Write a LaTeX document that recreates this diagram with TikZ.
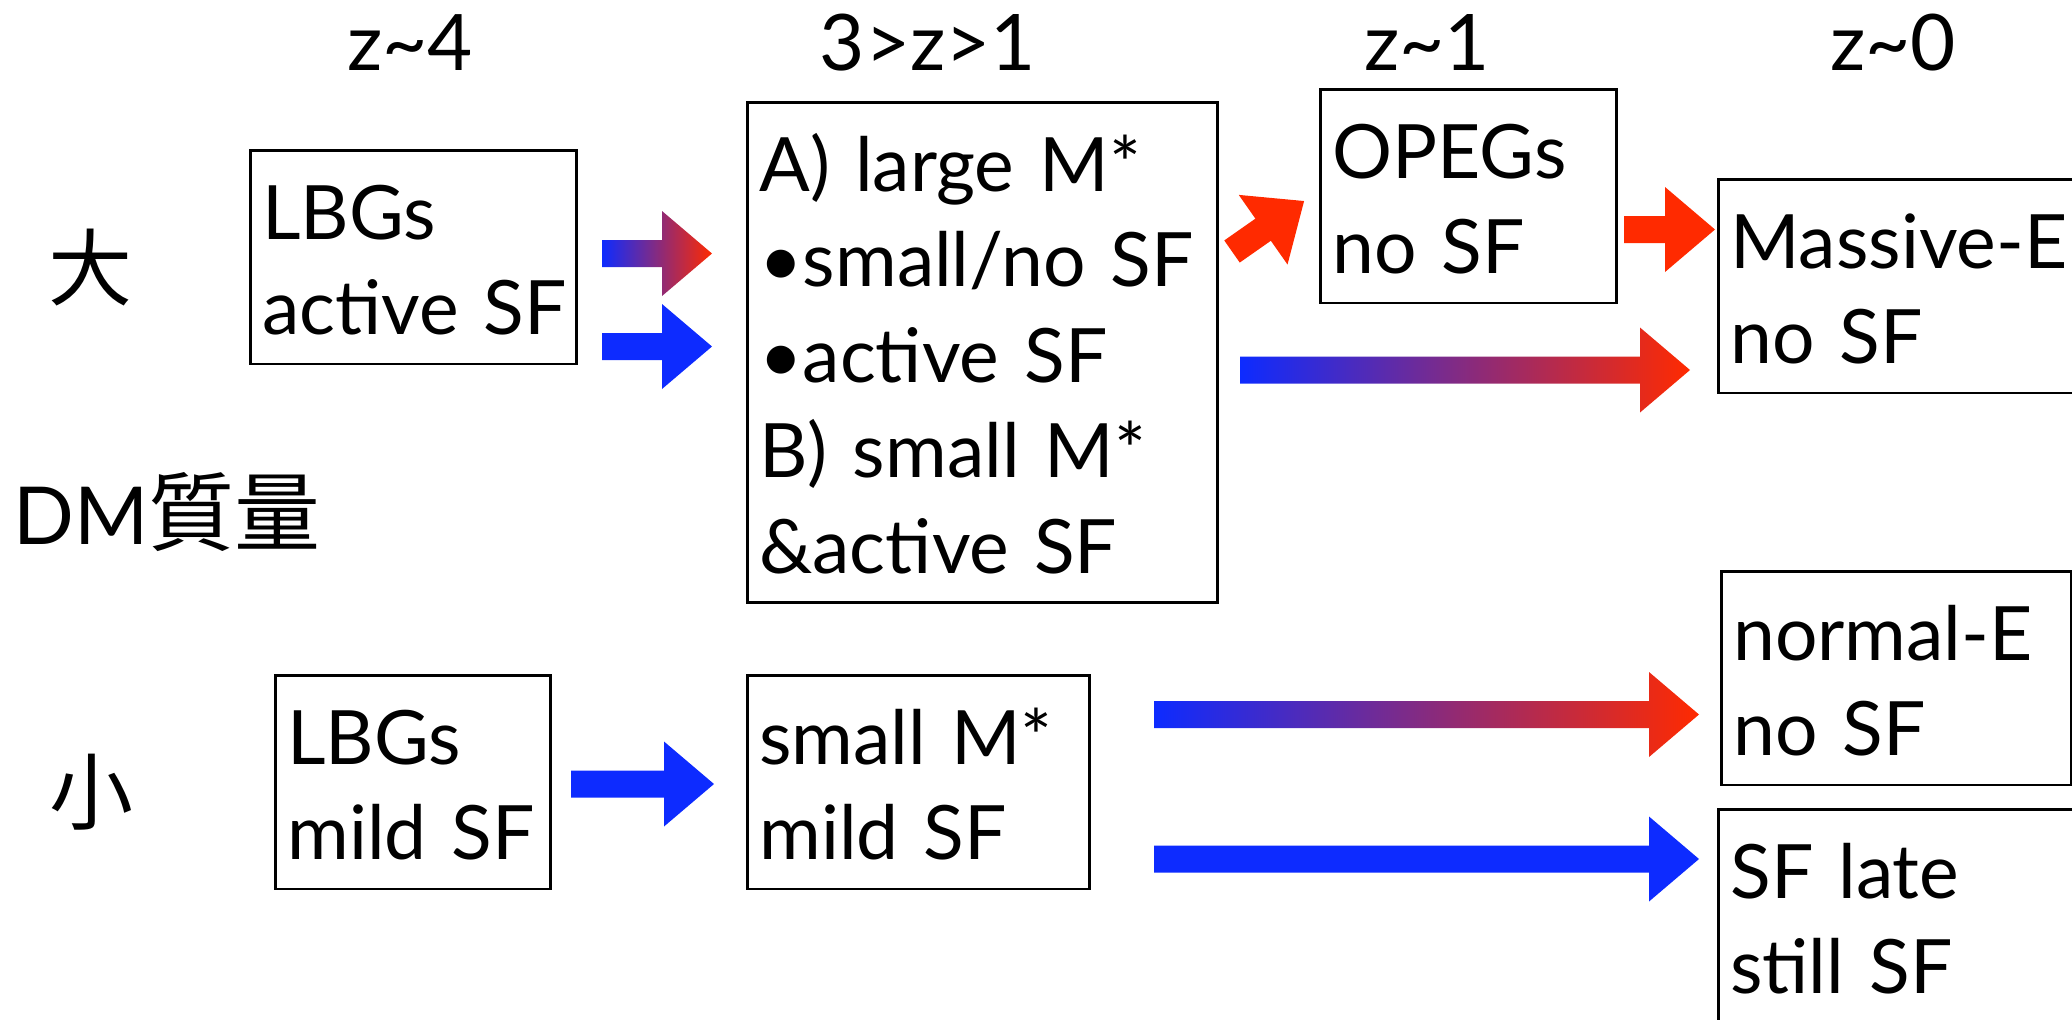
\documentclass[tikz,border=0pt]{standalone}
\usepackage{fontspec}
\setmainfont{Lato}
\newfontfamily\cjk{Noto Sans CJK JP}
\definecolor{arblue}{RGB}{13,43,255}
\definecolor{arred}{RGB}{255,42,0}

% struts fixing the first baseline and the space under the last line of a box
\newcommand\firstline{\rule{0pt}{44.5pt}}
\newcommand\lastline{\rule[-14.5pt]{0pt}{14.5pt}}
% block arrow: [style]{tail coordinate}{length}{angle}
\newcommand\blockarrow[4][]{%
  \path[#1, shift={(#2)}, rotate=#4]
    (0,-13.5) -- ({#3-50},-13.5) -- ({#3-50},-42.5) -- (#3,0)
    -- ({#3-50},42.5) -- ({#3-50},13.5) -- (0,13.5) -- cycle;}

\begin{document}
\begin{tikzpicture}[x=0.5pt,y=-0.5pt,
  every node/.style={font=\fontsize{37.5}{47.75}\selectfont, inner sep=0pt},
  box/.style={draw, line width=1.3pt, anchor=north west, align=left,
              inner xsep=6pt, inner ysep=0pt},
  head/.style={anchor=base, font=\fontsize{39}{47.75}\selectfont},
  side/.style={font=\cjk\fontsize{42}{47.75}\selectfont, anchor=base},
  grad/.style={left color=arblue, right color=arred},
  blu/.style={fill=arblue},
  rd/.style={fill=arred}]
\useasboundingbox (0,0) rectangle (2072,1019);
\clip (0,0) rectangle (2072,1019);

% redshift headings
\node[head] (hz4) at (410,70) {z\textasciitilde 4};
\node[head] (hz31) at (928,70) {3>z>1};
\node[head] (hz1) at (1427,70) {z\textasciitilde 1};
\node[head] (hz0) at (1893,70) {z\textasciitilde 0};

% halo mass axis
\node[side] (big) at (90,299) {大};
\node[anchor=base west, font=\fontsize{40}{47.75}\selectfont] (dm) at (13,544)
  {DM{\cjk\fontsize{43}{47.75}\selectfont 質量}};
\node[side] (small) at (91,823) {小};

% massive branch
\node[box, text width=151pt] (lbgA) at (249,149)
  {\firstline LBGs\\ \mbox{active SF}\lastline};
\node[box, text width=223pt] (mid) at (746,101)
  {\firstline \mbox{A) large M*}\\ \mbox{•small/no SF}\\ \mbox{•active SF}\\
   \mbox{B) small M*}\\ \mbox{\&active SF}\lastline};
\node[box, text width=136pt] (opeg) at (1319,88)
  {\firstline OPEGs\\ \mbox{no SF}\lastline};
\node[box, text width=188pt] (mE) at (1717,178)
  {\firstline Massive-E\\ \mbox{no SF}\lastline};

% low-mass branch
\node[box, text width=125.5pt] (lbgB) at (274,674)
  {\firstline LBGs\\ \mbox{mild SF}\lastline};
\node[box, text width=159pt] (smallM) at (746,674)
  {\firstline \mbox{small M*}\\ \mbox{mild SF}\lastline};
\node[box, text width=163pt] (nE) at (1720,570)
  {\firstline normal-E\\ \mbox{no SF}\lastline};
\node[box, text width=188pt] (late) at (1717,808)
  {\firstline \mbox{SF late}\\ \mbox{still SF}\lastline};

% arrows
\coordinate (a1) at (602,253.5);  \blockarrow[grad]{a1}{110}{0}
\coordinate (a2) at (602,346.5);  \blockarrow[blu]{a2}{110}{0}
\coordinate (a3) at (1232,251.5); \blockarrow[rd]{a3}{88}{35}
\coordinate (a4) at (1624,229.5); \blockarrow[rd]{a4}{91}{0}
\coordinate (a5) at (1240,370);   \blockarrow[grad]{a5}{450}{0}
\coordinate (a6) at (571,784);    \blockarrow[blu]{a6}{143}{0}
\coordinate (a7) at (1154,714.5); \blockarrow[grad]{a7}{545}{0}
\coordinate (a8) at (1154,859);   \blockarrow[blu]{a8}{545}{0}
\end{tikzpicture}
\end{document}
